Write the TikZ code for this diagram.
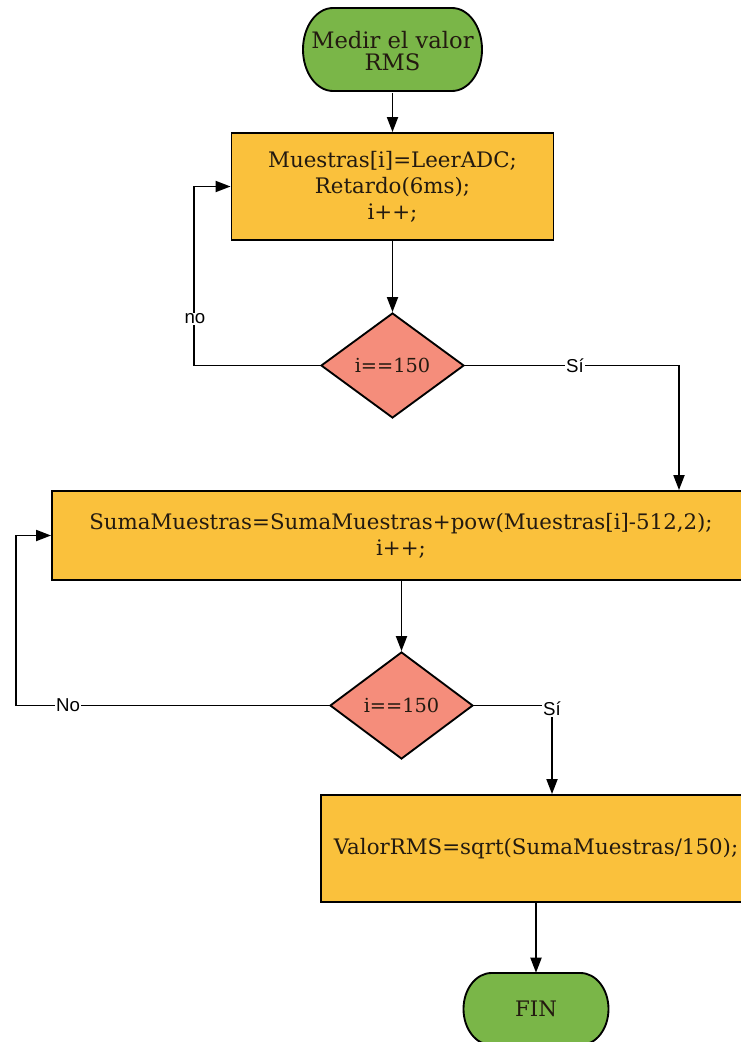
\documentclass[tikz,border=0pt]{standalone}
\usepackage{fontspec}
\setmainfont{DejaVu Serif}
\newfontfamily\labfont{Liberation Sans}
\usetikzlibrary{shapes.geometric,arrows.meta}

\definecolor{termgreen}{HTML}{7AB648}
\definecolor{procorange}{HTML}{FAC13C}
\definecolor{decsalmon}{HTML}{F58D7B}
\definecolor{inktext}{HTML}{231A10}

\begin{document}
\begin{tikzpicture}[x=0.75pt,y=-0.75pt,
  flow/.style={draw=black,line width=1.4pt},
  arrow/.style={flow,-{Triangle[length=11.25pt,width=8.25pt]}},
  procbox/.style={rectangle,draw=black,line width=1.4pt,fill=procorange,text=inktext,
    inner sep=0pt,align=center,font=\fontsize{16pt}{19.5pt}\selectfont},
  decision/.style={diamond,draw=black,line width=1.4pt,fill=decsalmon,text=inktext,
    inner sep=0pt,font=\fontsize{14.5pt}{19pt}\selectfont},
  termshape/.style={draw=black,line width=1.4pt,fill=termgreen},
  termtext/.style={inner sep=0pt,align=center,text=inktext},
  lab/.style={fill=white,inner sep=1pt,font=\labfont\fontsize{14pt}{16pt}\selectfont}
]
\useasboundingbox (0,0) rectangle (741,1042);
\fill[white] (0,0) rectangle (741,1042);

% start terminal outline
\draw[termshape] (333,8) -- (452,8)
  arc[start angle=90,end angle=-90,x radius=22.5pt,y radius=31.125pt]
  -- (333,91)
  arc[start angle=270,end angle=90,x radius=22.5pt,y radius=31.125pt] -- cycle;
\node[termtext,minimum width=134.25pt,minimum height=62.25pt,
  font=\fontsize{17pt}{16.5pt}\selectfont] (start) at (392.5,51) {Medir el valor\\RMS};

% end terminal outline
\draw[termshape] (491.5,973) -- (580.5,973)
  arc[start angle=90,end angle=-90,x radius=21pt,y radius=27pt]
  -- (491.5,1045)
  arc[start angle=270,end angle=90,x radius=21pt,y radius=27pt] -- cycle;
\node[termtext,minimum width=108.75pt,minimum height=54pt,
  font=\fontsize{16pt}{19pt}\selectfont] (fin) at (536,1009) {FIN};

% process boxes
\node[procbox,minimum width=241.5pt,minimum height=80.25pt] (box1) at (392.5,186.5)
  {Muestras[i]=LeerADC;\\Retardo(6ms);\\i++;};
\node[procbox,minimum width=523.5pt,minimum height=66.75pt] (box2) at (401,535.5)
  {SumaMuestras=SumaMuestras+pow(Muestras[i]-512,2);\\i++;};
\node[procbox,minimum width=322.5pt,minimum height=80.25pt] (box3) at (536,848.5)
  {ValorRMS=sqrt(SumaMuestras/150);};

% decisions
\node[decision,minimum width=107.25pt,minimum height=78.75pt] (d1) at (392.5,365.5) {i==150};
\node[decision,minimum width=107.25pt,minimum height=80.25pt] (d2) at (401.5,705.5) {i==150};

% bend points
\coordinate (c1) at (194,365.5);
\coordinate (c2) at (679,365.5);
\coordinate (c3) at (16,705.5);
\coordinate (c4) at (552,705.5);

% connectors
\draw[arrow] (start.south) -- (box1.north);
\draw[arrow] (box1.south) -- (d1.north);
\draw[arrow] (d1.west) -- (c1) |- (box1.west);
\draw[arrow] (d1.east) -- (c2) -- (c2 |- box2.north);
\draw[arrow] (d2.north |- box2.south) -- (d2.north);
\draw[arrow] (d2.west) -- (c3) |- (box2.west);
\draw[arrow] (d2.east) -- (c4) -- (c4 |- box3.north);
\draw[arrow] (box3.south) -- (fin.north);

% branch labels
\node[lab] (no1) at (195,319) {no};
\node[lab] (si1) at (575,365.5) {Sí};
\node[lab] (no2) at (68,705.5) {No};
\node[lab] (si2) at (552,709) {Sí};
\end{tikzpicture}
\end{document}
